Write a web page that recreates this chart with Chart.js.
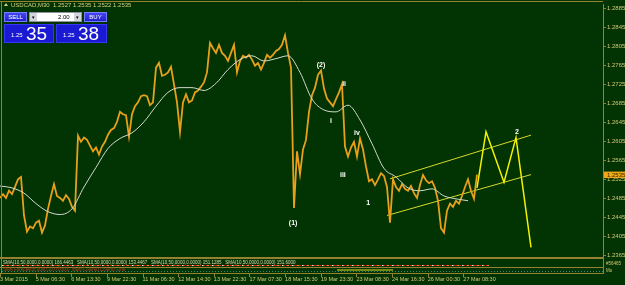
<!DOCTYPE html>
<html>
<head>
<meta charset="utf-8">
<script src="https://cdn.jsdelivr.net/npm/chart.js@4.4.1/dist/chart.umd.min.js"></script>
<style>
  html, body { margin: 0; padding: 0; background: #023302; }
  #wrap { position: relative; width: 625px; height: 285px; overflow: hidden; }
  canvas { display: block; }
  .hdr { position: absolute; left: 4px; top: 2px; font: 6px "Liberation Sans Narrow", "Liberation Sans", sans-serif; color: #d8cc80; white-space: nowrap; }
  .hdr b { display: inline-block; width: 0; height: 0; border-left: 2px solid transparent; border-right: 2px solid transparent; border-bottom: 3px solid #d8cc80; margin-right: 3px; vertical-align: 1px; }
  .btn { position: absolute; top: 12px; height: 10px; width: 23px; box-sizing: border-box;
         background: linear-gradient(#4646f4, #2020cc); border: 1px solid #7a7aff; color: #fff;
         font: 6px "Liberation Sans Narrow", "Liberation Sans", sans-serif; text-align: center; line-height: 9px; }
  .lot { position: absolute; left: 29px; top: 12px; width: 53px; height: 10px; box-sizing: border-box; background: #fff; border: 1px solid #9090a0;
         font: 6px "Liberation Sans", sans-serif; color: #000; }
  .lot span { position: absolute; top: 0; width: 7px; height: 8px; background: #d4d4dc; font-size: 5px; line-height: 8px; text-align: center; }
  .big { position: absolute; top: 24px; height: 19px; box-sizing: border-box; background: #1a1ad2; border: 1px solid #3838f0; color: #fff; }
  .big i { position: absolute; left: 6px; top: 7px; font: normal 6px "Liberation Sans", sans-serif; }
  .big em { position: absolute; left: 21px; top: -2px; font: normal 19px "Liberation Sans Narrow", "Liberation Sans", sans-serif; }
</style>
</head>
<body>
<div id="wrap">
  <canvas id="c" width="625" height="285"></canvas>
  <div class="hdr"><b></b>USDCAD,M30&nbsp; 1.2527 1.2535 1.2522 1.2535</div>
  <div class="btn" style="left:4px">SELL</div>
  <div class="lot"><span style="left:0">&#9662;</span><span style="right:0">&#9662;</span><div style="position:absolute;left:28px;top:0;line-height:8px">2.00</div></div>
  <div class="btn" style="left:84px">BUY</div>
  <div class="big" style="left:4px;width:50px"><i>1.25</i><em>35</em></div>
  <div class="big" style="left:56px;width:51px"><i>1.25</i><em>38</em></div>
</div>
<script>
const BG = "#023302";
const OLIVE = "#948232";
const TXT = "#d4c878";
const FONT = '"Liberation Sans Narrow", "Liberation Sans", sans-serif';

// time axis labels (one every 11.88 samples)
const dateLabels = ["3 Mar 2015", "5 Mar 06:30", "6 Mar 13:30", "9 Mar 22:30", "11 Mar 06:30", "12 Mar 14:30",
  "13 Mar 22:30", "17 Mar 07:30", "18 Mar 15:30", "19 Mar 23:30", "23 Mar 08:30", "24 Mar 16:30",
  "26 Mar 00:30", "27 Mar 08:30"];
const labelStep = 11.88;

const priceTicks = [1.2365, 1.2405, 1.2445, 1.2485, 1.2525, 1.2565, 1.2605, 1.2645, 1.2685, 1.2725,
  1.2765, 1.2805, 1.2845, 1.2885];
const lastClose = 1.2535;

// USDCAD M30 closes, one sample per step
const price = [
  1.2486, 1.2494, 1.2486, 1.2501, 1.2494, 1.2509, 1.2525, 1.2530, 1.2449, 1.2415,
  1.2426, 1.2422, 1.2434, 1.2438, 1.2413, 1.2428, 1.2463, 1.2490, 1.2515, 1.2490,
  1.2486, 1.2480, 1.2492, 1.2484, 1.2467, 1.2459, 1.2617, 1.2604, 1.2613, 1.2608,
  1.2596, 1.2584, 1.2592, 1.2577, 1.2594, 1.2604, 1.2619, 1.2629, 1.2633, 1.2646,
  1.2667, 1.2662, 1.2660, 1.2615, 1.2662, 1.2679, 1.2687, 1.2700, 1.2702, 1.2700,
  1.2681, 1.2687, 1.2760, 1.2770, 1.2743, 1.2745, 1.2750, 1.2762, 1.2725, 1.2687,
  1.2625, 1.2687, 1.2704, 1.2687, 1.2691, 1.2708, 1.2712, 1.2720, 1.2729, 1.2750,
  1.2812, 1.2801, 1.2791, 1.2808, 1.2791, 1.2785, 1.2774, 1.2791, 1.2808, 1.2750,
  1.2774, 1.2785, 1.2781, 1.2787, 1.2777, 1.2764, 1.2770, 1.2756, 1.2770, 1.2787,
  1.2781, 1.2787, 1.2795, 1.2799, 1.2808, 1.2828, 1.2791, 1.2760, 1.2465, 1.2584,
  1.2536, 1.2588, 1.2608, 1.2667, 1.2702, 1.2718, 1.2745, 1.2754, 1.2716, 1.2695,
  1.2687, 1.2679, 1.2694, 1.2708, 1.2725, 1.2594, 1.2573, 1.2592, 1.2604, 1.2573,
  1.2611, 1.2588, 1.2552, 1.2521, 1.2525, 1.2513, 1.2525, 1.2538, 1.2532, 1.2509,
  1.2434, 1.2525, 1.2509, 1.2501, 1.2515, 1.2505, 1.2501, 1.2511, 1.2496, 1.2486,
  1.2513, 1.2534, 1.2523, 1.2517, 1.2521, 1.2507, 1.2480, 1.2422, 1.2413, 1.2459,
  1.2474, 1.2467, 1.2480, 1.2474, 1.2490, 1.2509, 1.2525, 1.2501, 1.2484, 1.2535
];

// moving average, one value every 4 samples
const maStep = 4;
const ma = [
  1.2511, 1.2507, 1.2496, 1.2474, 1.2457, 1.2451, 1.2463, 1.2509, 1.2550, 1.2590,
  1.2611, 1.2623, 1.2646, 1.2679, 1.2708, 1.2718, 1.2718, 1.2712, 1.2727, 1.2756,
  1.2777, 1.2785, 1.2774, 1.2779, 1.2785, 1.2750, 1.2694, 1.2671, 1.2667, 1.2681,
  1.2650, 1.2600, 1.2548, 1.2530, 1.2507, 1.2501, 1.2505, 1.2490, 1.2484, 1.2480
];

// hand drawn projection and channel
const projIdx = [159, 162, 168, 172, 177];
const projVal = [1.2507, 1.2625, 1.2519, 1.2613, 1.2382];
const upperIdx = [130, 177];
const upperVal = [1.2526, 1.2618];
const lowerIdx = [129, 177];
const lowerVal = [1.2449, 1.2535];

// wave count labels
const waveText = ["(1)", "(2)", "i", "ii", "iii", "iv", "1", "2"];
const waveIdx = [97.7, 107, 110.3, 114.7, 114.3, 119, 122.7, 172.3];
const waveVal = [1.2432, 1.2766, 1.2648, 1.2725, 1.2534, 1.2623, 1.2476, 1.2625];

const pts = (xs, ys) => xs.map((x, i) => ({ x: x, y: ys[i] }));

const terminal = {
  id: "terminal",
  beforeDraw(chart) {
    const c = chart.ctx;
    c.save();
    c.fillStyle = BG;
    c.fillRect(0, 0, chart.width, chart.height);
    c.restore();
  },
  afterDatasetsDraw(chart) {
    const c = chart.ctx;
    const xs = chart.scales.x, ys = chart.scales.y;
    c.save();
    c.fillStyle = "#ffffff";
    c.font = "bold 7px 'Liberation Sans', sans-serif";
    c.textAlign = "center";
    c.textBaseline = "middle";
    waveText.forEach((t, i) => {
      c.fillText(t, xs.getPixelForValue(waveIdx[i]), ys.getPixelForValue(waveVal[i]));
    });
    c.restore();
  },
  afterDraw(chart) {
    const c = chart.ctx;
    const a = chart.chartArea;
    const ys = chart.scales.y;
    c.save();
    // frame and indicator sub windows
    c.strokeStyle = OLIVE;
    c.lineWidth = 1;
    c.beginPath();
    c.moveTo(0, 1.5); c.lineTo(a.right, 1.5);
    c.moveTo(1.5, 1); c.lineTo(1.5, 274);
    c.moveTo(a.right + 0.5, a.bottom); c.lineTo(a.right + 0.5, 274);
    c.stroke();
    c.lineWidth = 2;
    c.beginPath();
    c.moveTo(0, 258); c.lineTo(a.right, 258);
    c.stroke();
    c.lineWidth = 1;
    c.beginPath();
    c.moveTo(0, 267.5); c.lineTo(a.right, 267.5);
    c.moveTo(0, 273.5); c.lineTo(a.right, 273.5);
    c.stroke();
    // x tick marks above the date labels
    chart.scales.x.ticks.forEach((t) => {
      const px = Math.round(chart.scales.x.getPixelForValue(t.value)) + 0.5;
      c.beginPath(); c.moveTo(px, 274); c.lineTo(px, 277); c.stroke();
    });

    c.font = "4.5px " + FONT;
    c.textBaseline = "middle";
    c.fillStyle = "#e0d8b0";
    c.fillText("SMA(10,50,0000,0.0000) 166.4463   SMA(10,50,0000,0.0000) 153.4467   SMA(10,50,0000,0.0000) 151.1285   SMA(10,50,0000,0.0000) 151.6000", 3, 262.5);
    // colour strip
    const strip = [["#d42018", [3, 1]], ["#f08a1c", [2, 3]], ["#f0f0e0", [1, 9]]];
    strip.forEach(([col, dash]) => {
      c.strokeStyle = col;
      c.setLineDash(dash);
      c.beginPath(); c.moveTo(2, 265.5); c.lineTo(490, 265.5); c.stroke();
    });
    c.setLineDash([]);
    c.fillStyle = "#b83a2a";
    c.fillText("SMA Forecast(8,0000,10,0.0000)  Multi-Colored Colorful Line", 3, 269.5);
    c.strokeStyle = "#e8e020";
    c.beginPath(); c.moveTo(337, 270); c.lineTo(393, 270); c.stroke();
    c.strokeStyle = "#2a8a86";
    c.setLineDash([1, 2]);
    c.beginPath(); c.moveTo(2, 271.5); c.lineTo(a.right, 271.5); c.stroke();
    c.setLineDash([]);

    // current price marker
    const py = ys.getPixelForValue(lastClose);
    c.fillStyle = "#f0a818";
    c.fillRect(a.right + 1, py - 3, 22, 6.5);
    c.fillStyle = "#3a2a00";
    c.font = "6px " + FONT;
    c.fillText(lastClose.toFixed(4), a.right + 4, py + 0.3);
    c.fillStyle = TXT;
    c.font = "4.5px " + FONT;
    c.fillText("#56465", a.right + 3, 264);
    c.fillText("Mo", a.right + 3, 271);
    c.restore();
  }
};

new Chart(document.getElementById("c"), {
  type: "line",
  data: {
    datasets: [
      { data: pts(projIdx, projVal), borderColor: "#f2f200", borderWidth: 1.5, order: 0 },
      { data: ma.map((v, k) => ({ x: k * maStep, y: v })), borderColor: "#d0d8cc", borderWidth: 1,
        cubicInterpolationMode: "monotone", order: 1 },
      { data: price.map((v, i) => ({ x: i, y: v })), borderColor: "#e8a01c", borderWidth: 1.8, order: 2 },
      { data: pts(upperIdx, upperVal), borderColor: "#d8d82a", borderWidth: 1, order: 3 },
      { data: pts(lowerIdx, lowerVal), borderColor: "#d8d82a", borderWidth: 1, order: 3 }
    ]
  },
  options: {
    responsive: false,
    animation: false,
    events: [],
    layout: { padding: { top: 1, left: 0, right: 0, bottom: 0 } },
    elements: { point: { radius: 0 }, line: { tension: 0 } },
    plugins: { legend: { display: false }, tooltip: { enabled: false } },
    scales: {
      x: {
        type: "linear",
        min: 0,
        max: 201,
        grid: { display: false, drawTicks: true, tickLength: 18.5 },
        border: { display: false },
        afterBuildTicks: (s) => { s.ticks = dateLabels.map((_, k) => ({ value: k * labelStep })); },
        afterFit: (s) => { s.height = 27; s.paddingLeft = 0; },
        ticks: {
          autoSkip: false, maxRotation: 0, align: "start", padding: 0,
          color: TXT, font: { family: FONT, size: 5.5 },
          callback: (v, i) => dateLabels[i]
        }
      },
      y: {
        position: "right",
        min: 1.23595,
        max: 1.28927,
        afterBuildTicks: (s) => { s.ticks = priceTicks.map((v) => ({ value: v })); },
        afterFit: (s) => { s.width = 22; },
        grid: { drawOnChartArea: false, drawTicks: true, tickLength: 3, color: OLIVE },
        border: { display: true, color: OLIVE },
        ticks: { padding: 1, color: TXT, font: { family: FONT, size: 6 }, callback: (v) => v.toFixed(4) }
      }
    }
  },
  plugins: [terminal]
});
</script>
</body>
</html>
